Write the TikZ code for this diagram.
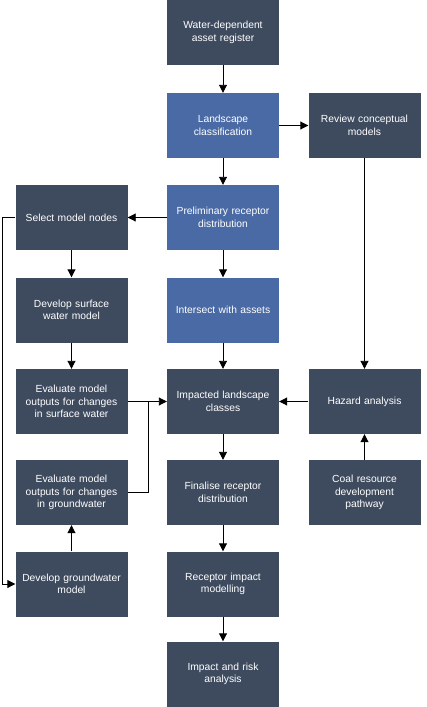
\documentclass[tikz,border=0pt]{standalone}
\usepackage{fontspec}
\setmainfont{Liberation Sans}
\usetikzlibrary{arrows.meta}
\definecolor{dk}{HTML}{3E4B5F}
\definecolor{bl}{HTML}{4A6AA5}
\begin{document}
\begin{tikzpicture}[x=1pt,y=-1pt,
 box/.style={fill=dk, text=white, minimum width=112pt, minimum height=65pt, inner sep=0pt, text width=106pt, align=center, font=\fontsize{10.3}{12.5}\selectfont},
 bbox/.style={box, fill=bl},
 arr/.style={-{Triangle[width=8pt,length=8pt]}, line width=0.9pt, black},
 ln/.style={line width=0.9pt, black}]
\useasboundingbox (0,0) rectangle (426,707);
\node[box] (wd) at (223,32.5) {Water-dependent\\asset register};
\node[bbox] (lc) at (223,125.5) {Landscape\\classification};
\node[box] (rc) at (364.5,125.5) {Review conceptual\\models};
\node[box] (sm) at (71.5,217.5) {Select model nodes};
\node[bbox] (pr) at (223,217.5) {Preliminary receptor\\distribution};
\node[box] (ds) at (71.5,310) {Develop surface\\water model};
\node[bbox] (iw) at (223,310) {Intersect with assets};
\node[box] (es) at (71.5,401.5) {Evaluate model\\outputs for changes\\in surface water};
\node[box] (il) at (223,401.5) {Impacted landscape\\classes};
\node[box] (ha) at (364.5,401.5) {Hazard analysis};
\node[box] (eg) at (71.5,492.5) {Evaluate model\\outputs for changes\\in groundwater};
\node[box] (fr) at (223,492.5) {Finalise receptor\\distribution};
\node[box] (cr) at (364.5,492.5) {Coal resource\\development\\pathway};
\node[box] (dg) at (71.5,584) {Develop groundwater\\model};
\node[box] (ri) at (223,584) {Receptor impact\\modelling};
\node[box] (ir) at (223,674) {Impact and risk\\analysis};
\draw[arr] (wd) -- (lc);
\draw[arr] (lc) -- (rc);
\draw[arr] (lc) -- (pr);
\draw[arr] (pr) -- (sm);
\draw[arr] (sm) -- (ds);
\draw[arr] (ds) -- (es);
\draw[arr] (es) -- (il);
\draw[arr] (pr) -- (iw);
\draw[arr] (iw) -- (il);
\draw[arr] (rc) -- (ha);
\draw[arr] (ha) -- (il);
\draw[arr] (cr) -- (ha);
\draw[arr] (il) -- (fr);
\draw[arr] (fr) -- (ri);
\draw[arr] (ri) -- (ir);
\draw[arr] (dg) -- (eg);
\coordinate (j) at (148,401.5);
\draw[ln] (eg.east) -| (j);
\coordinate (lft) at (2,217.5);
\draw[arr] (sm.west) -- (lft) |- (dg.west);
\end{tikzpicture}
\end{document}
